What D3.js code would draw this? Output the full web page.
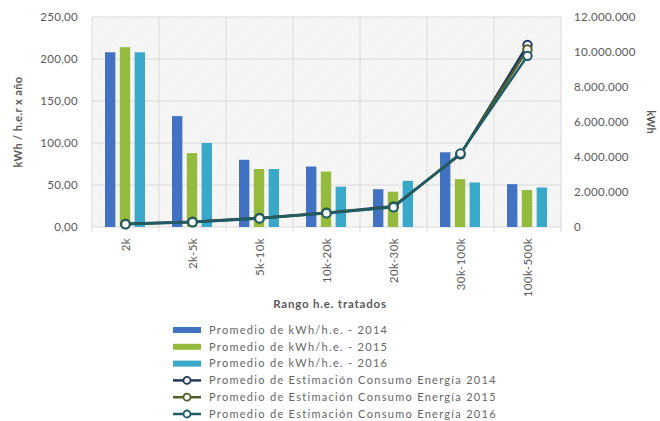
<!DOCTYPE html>
<html>
<head>
<meta charset="utf-8">
<script src="https://cdn.jsdelivr.net/npm/d3@7"></script>
<style>
  body { margin: 0; background: #fff; }
  text { font-family: "Lato", "Open Sans", sans-serif; fill: #595959; }
</style>
</head>
<body>
<script>
var categories = ['2k', '2k-5k', '5k-10k', '10k-20k', '20k-30k', '30k-100k', '100k-500k'];
var kwh2014 = [208, 132, 80, 72, 45, 89, 51];
var kwh2015 = [214, 88, 69, 66, 42, 57, 44];
var kwh2016 = [208, 100, 69, 48, 55, 53, 47];
var energia2014 = [180000, 300000, 520000, 820000, 1180000, 4150000, 10400000];
var energia2015 = [170000, 280000, 500000, 800000, 1150000, 4180000, 10150000];
var energia2016 = [160000, 270000, 490000, 790000, 1130000, 4200000, 9780000];
var leftTicks = [0, 50, 100, 150, 200, 250];
var rightTicks = [0, 2000000, 4000000, 6000000, 8000000, 10000000, 12000000];

var barSeries = [
  {name: 'Promedio de kWh/h.e. - 2014', values: kwh2014, color: '#4273c3'},
  {name: 'Promedio de kWh/h.e. - 2015', values: kwh2015, color: '#94ba3e'},
  {name: 'Promedio de kWh/h.e. - 2016', values: kwh2016, color: '#3aa8c9'}
];
var lineSeries = [
  {name: 'Promedio de Estimación Consumo Energía 2014', values: energia2014, color: '#1f3a5c'},
  {name: 'Promedio de Estimación Consumo Energía 2015', values: energia2015, color: '#4c5f26'},
  {name: 'Promedio de Estimación Consumo Energía 2016', values: energia2016, color: '#1f5c66'}
];

var width = 660,
    height = 421;
var margin = {top: 17, left: 92, right: 99, bottom: 194};
var plotW = width - margin.left - margin.right,
    plotH = height - margin.top - margin.bottom;

var svg = d3.select('body')
  .append('svg')
  .attr('width', width)
  .attr('height', height);

var defs = svg.append('defs');
var pat = defs.append('pattern')
  .attr('id', 'hatch')
  .attr('patternUnits', 'userSpaceOnUse')
  .attr('width', 3)
  .attr('height', 3);
pat.append('rect').attr('width', 3).attr('height', 3).attr('fill', '#f9f9f9');
pat.append('path').attr('d', 'M0,3 L3,0').attr('stroke', '#ebebeb').attr('stroke-width', 0.8);

var x = d3.scaleBand()
  .domain(categories)
  .range([0, plotW]);

var xInner = d3.scaleBand()
  .domain(d3.range(barSeries.length))
  .range([13, x.bandwidth() - 14])
  .paddingInner(0.3);

var y = d3.scaleLinear()
  .domain([0, 250])
  .range([plotH, 0]);

var y2 = d3.scaleLinear()
  .domain([0, 12000000])
  .range([plotH, 0]);

var g = svg.append('g')
  .attr('transform', 'translate(' + margin.left + ',' + margin.top + ')');

g.append('rect')
  .attr('width', plotW)
  .attr('height', plotH)
  .attr('fill', 'url(#hatch)');

// grid
g.selectAll('.hgrid')
  .data(leftTicks)
  .enter()
  .append('line')
  .attr('x1', 0)
  .attr('x2', plotW)
  .attr('y1', function(d) { return y(d); })
  .attr('y2', function(d) { return y(d); })
  .attr('stroke', '#dadada');

g.selectAll('.vgrid')
  .data(categories.concat(['end']))
  .enter()
  .append('line')
  .attr('x1', function(d, i) { return i * x.bandwidth(); })
  .attr('x2', function(d, i) { return i * x.bandwidth(); })
  .attr('y1', 0)
  .attr('y2', plotH + 5)
  .attr('stroke', '#dadada');

// bars
barSeries.forEach(function(s, si) {
  g.append('g').selectAll('rect')
    .data(s.values)
    .enter()
    .append('rect')
    .attr('x', function(d, i) { return x(categories[i]) + xInner(si); })
    .attr('y', function(d) { return y(d); })
    .attr('width', xInner.bandwidth())
    .attr('height', function(d) { return plotH - y(d); })
    .attr('fill', s.color);
});

// lines
var line = d3.line()
  .x(function(d, i) { return x(categories[i]) + x.bandwidth() / 2; })
  .y(function(d) { return y2(d); });

lineSeries.forEach(function(s) {
  g.append('path')
    .datum(s.values)
    .attr('d', line)
    .attr('fill', 'none')
    .attr('stroke', s.color)
    .attr('stroke-width', 2.5);
});
lineSeries.forEach(function(s) {
  g.append('g').selectAll('circle')
    .data(s.values)
    .enter()
    .append('circle')
    .attr('cx', function(d, i) { return x(categories[i]) + x.bandwidth() / 2; })
    .attr('cy', function(d) { return y2(d); })
    .attr('r', 4.2)
    .attr('fill', '#fff')
    .attr('stroke', s.color)
    .attr('stroke-width', 2);
});

// left axis labels
g.selectAll('.ylab')
  .data(leftTicks)
  .enter()
  .append('text')
  .attr('x', -14)
  .attr('y', function(d) { return y(d); })
  .attr('dy', '0.35em')
  .attr('text-anchor', 'end')
  .style('font-size', '11.5px')
  .style('letter-spacing', '0.3px')
  .text(function(d) { return d.toFixed(2).replace('.', ','); });

// right axis labels
g.selectAll('.y2lab')
  .data(rightTicks)
  .enter()
  .append('text')
  .attr('x', plotW + 13)
  .attr('y', function(d) { return y2(d); })
  .attr('dy', '0.35em')
  .attr('text-anchor', 'start')
  .style('font-size', '11.5px')
  .style('letter-spacing', '0.3px')
  .text(function(d) { return d3.format(',')(d).replace(/,/g, '.'); });

// category labels
g.selectAll('.xlab')
  .data(categories)
  .enter()
  .append('text')
  .attr('transform', function(d) {
    return 'translate(' + (x(d) + x.bandwidth() / 2) + ',' + (plotH + 11) + ') rotate(-90)';
  })
  .attr('dy', '0.35em')
  .attr('text-anchor', 'end')
  .style('font-size', '11.5px')
  .style('letter-spacing', '0.4px')
  .text(function(d) { return d; });

// axis titles
svg.append('text')
  .attr('transform', 'translate(18,' + (margin.top + plotH / 2) + ') rotate(-90)')
  .attr('text-anchor', 'middle')
  .attr('dy', '0.35em')
  .style('font-size', '11px')
  .style('font-weight', 'bold')
  .style('letter-spacing', '0.4px')
  .text('kWh / h.e.r x año');

svg.append('text')
  .attr('transform', 'translate(651,' + (margin.top + plotH / 2) + ') rotate(90)')
  .attr('text-anchor', 'middle')
  .attr('dy', '0.35em')
  .style('font-size', '11px')
  .style('font-weight', 'bold')
  .text('kWh');

svg.append('text')
  .attr('x', 330)
  .attr('y', 308)
  .attr('text-anchor', 'middle')
  .style('font-size', '11.5px')
  .style('font-weight', 'bold')
  .style('letter-spacing', '0.8px')
  .text('Rango h.e. tratados');

// legend
var legend = svg.append('g').attr('transform', 'translate(173,330)');
var items = barSeries.map(function(s) { return {name: s.name, color: s.color, type: 'bar'}; })
  .concat(lineSeries.map(function(s) { return {name: s.name, color: s.color, type: 'line'}; }));

var li = legend.selectAll('g')
  .data(items)
  .enter()
  .append('g')
  .attr('transform', function(d, i) { return 'translate(0,' + (i * 16.8) + ')'; });

li.filter(function(d) { return d.type === 'bar'; })
  .append('rect')
  .attr('x', 0)
  .attr('y', -3)
  .attr('width', 28)
  .attr('height', 6)
  .attr('fill', function(d) { return d.color; });

var ll = li.filter(function(d) { return d.type === 'line'; });
ll.append('line')
  .attr('x1', 0)
  .attr('x2', 28)
  .attr('stroke', function(d) { return d.color; })
  .attr('stroke-width', 2.5);
ll.append('circle')
  .attr('cx', 14)
  .attr('r', 3.5)
  .attr('fill', '#fff')
  .attr('stroke', function(d) { return d.color; })
  .attr('stroke-width', 1.8);

li.append('text')
  .attr('x', 36)
  .attr('dy', '0.35em')
  .style('font-size', '11px')
  .style('letter-spacing', '1.3px')
  .style('fill', '#666')
  .text(function(d) { return d.name; });
</script>
</body>
</html>
